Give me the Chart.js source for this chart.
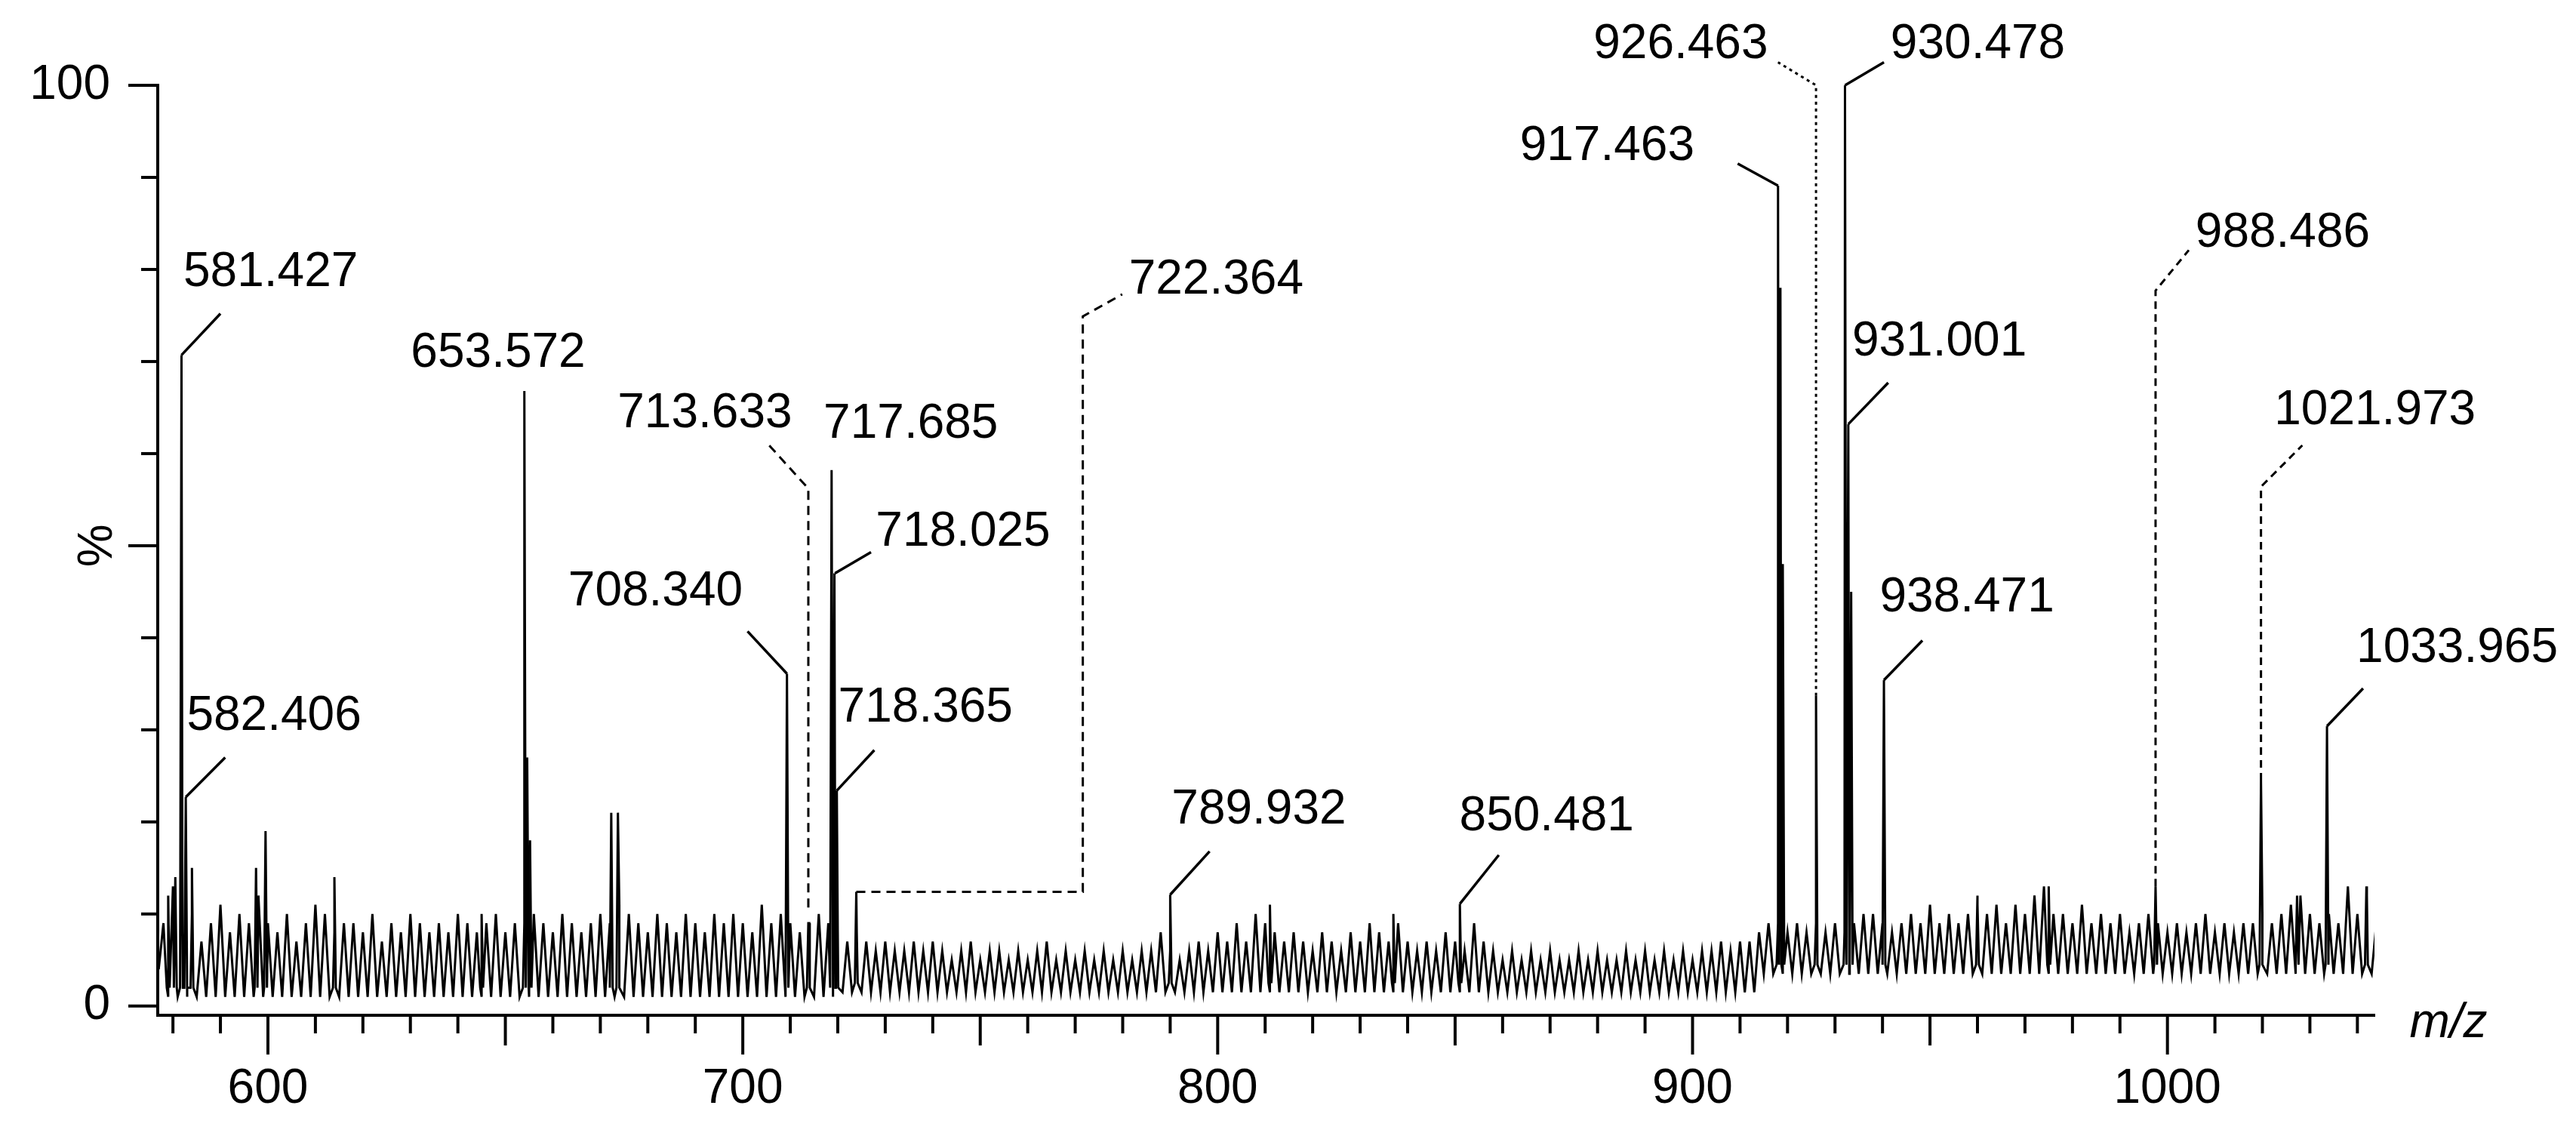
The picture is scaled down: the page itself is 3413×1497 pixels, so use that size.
<!DOCTYPE html>
<html>
<head>
<meta charset="utf-8">
<script src="https://cdn.jsdelivr.net/npm/chart.js@4/dist/chart.umd.min.js"></script>
<style>
  body { margin: 0; background: #fff; }
  canvas { display: block; }
</style>
</head>
<body>
<canvas id="spectrum" width="3413" height="1497"></canvas>
<script>
// Noise envelope tops, every 2 m/z from 578 to 1044
const noiseStart = 578;
const noiseTops = [
    9, 13, 8, 10, 7, 9, 11, 8, 10, 9,
    12, 9, 8, 10, 7, 9, 11, 10, 8, 9,
    9, 8, 10, 7, 9, 8, 10, 9, 8, 9,
    8, 10, 9, 8, 9, 10, 8, 9, 9, 10,
    9, 8, 10, 9, 8, 9, 10, 9, 11, 10,
    9, 8, 10, 9, 8, 10, 9, 8, 10, 9,
    10, 9, 8, 11, 9, 10, 9, 8, 9, 10,
    9, 8, 7, 8, 7, 6, 7, 6, 6, 7,
    6, 7, 6, 5, 6, 7, 5, 6, 6, 5,
    6, 5, 6, 7, 5, 6, 5, 6, 5, 6,
    5, 6, 5, 6, 6, 8, 6, 5, 6, 7,
    6, 8, 7, 9, 7, 10, 9, 8, 7, 8,
    7, 6, 8, 7, 6, 8, 7, 9, 8, 7,
    9, 7, 6, 7, 6, 8, 7, 6, 9, 7,
    6, 5, 6, 5, 6, 5, 6, 5, 5, 6,
    5, 6, 5, 5, 6, 5, 6, 5, 6, 5,
    6, 5, 6, 6, 7, 6, 7, 7, 8, 9,
    9, 8, 9, 8, 9, 8, 9, 8, 9, 10,
    10, 9, 8, 9, 10, 9, 11, 9, 10, 9,
    10, 12, 10, 11, 9, 11, 10, 12, 13, 10,
    10, 9, 11, 9, 10, 9, 10, 8, 9, 10,
    9, 8, 9, 8, 9, 10, 8, 9, 8, 9,
    9, 10, 9, 10, 11, 12, 10, 9, 10, 9,
    13, 10, 12, 9
];
// Noise floor by region: [from m/z, level]
const floorFrom = [577, 720, 915];
const floorLevel = [1, 1.5, 3.5];

// Peaks (position on the axis, relative intensity %)
const peakMz = [579, 580.5, 581.8, 582.7, 584, 597.5, 599.5, 614, 645, 654, 654.6, 655.2,
    672.3, 673.7, 709.3, 713.8, 718.7, 719.3, 719.8, 723.9, 790, 811, 837, 851,
    918, 918.5, 919, 926, 932.1, 932.8, 933.4, 940.3, 960, 975, 997.5, 1019.7, 1027.3, 1033.6, 1041.9];
const peakInt = [12, 14, 70.7, 22.7, 15, 15, 19, 14, 10, 66.8, 27, 18,
    21, 21, 36.1, 9, 58.2, 47, 23.4, 12.4, 12.1, 11, 10, 11.1,
    89.1, 78, 48, 33.7, 100, 63.2, 45, 35.4, 11, 13, 13, 24.5, 12, 30.4, 13];

// Labelled peaks
const labelText = ['581.427', '582.406', '653.572', '708.340', '713.633', '717.685', '718.025', '718.365',
    '722.364', '789.932', '850.481', '917.463', '926.463', '930.478', '931.001', '938.471',
    '988.486', '1021.973', '1033.965'];

// Label layout: text anchor [x, y], alignment, leader path, dash
const labelLayout = [
    { at: [582.2, 79.6], align: 'left', path: [[581.8, 70.7], [590, 75.2]] },
    { at: [582.9, 31.4], align: 'left', path: [[582.7, 22.7], [591, 27]] },
    { at: [630.1, 70.9], align: 'left', path: [] },
    { at: [700.0, 45.0], align: 'right', path: [[709.3, 36.1], [701, 40.7]] },
    { at: [710.4, 64.3], align: 'right', path: [[713.8, 10.7], [713.8, 56.2], [705.2, 61.1]], dash: [12, 8] },
    { at: [717.0, 63.2], align: 'left', path: [] },
    { at: [728.0, 51.4], align: 'left', path: [[719.4, 47], [727, 49.3]] },
    { at: [720.1, 32.3], align: 'left', path: [[719.8, 23.4], [727.7, 27.8]] },
    { at: [781.3, 78.8], align: 'left', path: [[723.9, 12.4], [771.6, 12.4], [771.6, 74.9], [779.9, 77.3]], dash: [12, 8] },
    { at: [790.3, 21.3], align: 'left', path: [[790, 12.1], [798.3, 16.8]] },
    { at: [850.9, 20.5], align: 'left', path: [[851, 11.1], [859.2, 16.4]] },
    { at: [900.4, 93.3], align: 'right', path: [[918, 89.1], [909.5, 91.5]] },
    { at: [915.9, 104.4], align: 'right', path: [[926, 33.7], [926, 100], [918, 102.5]], dash: [4, 5] },
    { at: [941.7, 104.4], align: 'left', path: [[932.1, 100], [940.3, 102.5]] },
    { at: [933.6, 72.1], align: 'left', path: [[932.8, 63.2], [941.2, 67.7]] },
    { at: [939.4, 44.3], align: 'left', path: [[940.3, 35.4], [948.4, 39.7]] },
    { at: [1005.9, 83.9], align: 'left', path: [[997.5, 13], [997.5, 77.7], [1004.5, 82.1]], dash: [10, 7] },
    { at: [1022.5, 64.6], align: 'left', path: [[1019.7, 24.5], [1019.7, 56.4], [1028.4, 60.9]], dash: [10, 7] },
    { at: [1039.8, 38.8], align: 'left', path: [[1033.6, 30.4], [1041.2, 34.5]] }
];

const xMin = 576.8, xMax = 1043.6;
const FONT = '"Liberation Sans", Arial, sans-serif';

// Build the profile: noise zigzag plus narrow peak triangles
function buildProfile() {
    const pts = [];
    const floorAt = x => {
        let f = floorLevel[0];
        floorFrom.forEach((from, i) => { if (x >= from) f = floorLevel[i]; });
        return f;
    };
    noiseTops.forEach((v, i) => {
        const x = noiseStart + i * 2;
        pts.push({ x: x, y: v });
        pts.push({ x: x + 1, y: floorAt(x + 1) });
    });
    peakMz.forEach((m, i) => {
        const b = floorAt(m) + 1;
        pts.push({ x: m - 0.3, y: b });
        pts.push({ x: m, y: peakInt[i] });
        pts.push({ x: m + 0.3, y: b });
    });
    pts.push({ x: 577, y: 4 });
    return pts.sort((a, b) => a.x - b.x);
}

// Custom axis ticks, annotations and axis titles
const decorPlugin = {
    id: 'decor',
    afterDraw(chart) {
        const ctx = chart.ctx;
        const xs = chart.scales.x, ys = chart.scales.y;
        const area = chart.chartArea;
        ctx.save();
        ctx.strokeStyle = '#000';
        ctx.fillStyle = '#000';

        // y ticks
        ctx.lineWidth = 4;
        for (let v = 0; v <= 100; v += 10) {
            const len = v % 50 === 0 ? 39 : 22;
            const y = ys.getPixelForValue(v);
            ctx.beginPath();
            ctx.moveTo(area.left - len, y);
            ctx.lineTo(area.left, y);
            ctx.stroke();
        }
        // x ticks
        for (let v = 580; v <= 1040; v += 10) {
            const len = v % 100 === 0 ? 52 : (v % 50 === 0 ? 40 : 24);
            const x = xs.getPixelForValue(v);
            ctx.beginPath();
            ctx.moveTo(x, area.bottom);
            ctx.lineTo(x, area.bottom + len);
            ctx.stroke();
        }

        // peak labels with leader lines
        ctx.font = '64px ' + FONT;
        ctx.textBaseline = 'middle';
        labelText.forEach((txt, i) => {
            const l = labelLayout[i];
            if (l.path.length) {
                ctx.lineWidth = l.dash ? 3 : 3.5;
                ctx.setLineDash(l.dash || []);
                ctx.beginPath();
                l.path.forEach((p, k) => {
                    const px = xs.getPixelForValue(p[0]), py = ys.getPixelForValue(p[1]);
                    if (k === 0) ctx.moveTo(px, py); else ctx.lineTo(px, py);
                });
                ctx.stroke();
                ctx.setLineDash([]);
            }
            ctx.textAlign = l.align;
            ctx.fillText(txt, xs.getPixelForValue(l.at[0]), ys.getPixelForValue(l.at[1]));
        });

        // "%" title
        ctx.save();
        ctx.translate(130, ys.getPixelForValue(50));
        ctx.rotate(-Math.PI / 2);
        ctx.textAlign = 'center';
        ctx.fillText('%', 0, 0);
        ctx.restore();

        // m/z title
        ctx.font = 'italic 64px ' + FONT;
        ctx.textAlign = 'center';
        ctx.fillText('m/z', 3244, 1356);
        ctx.restore();
    }
};

document.addEventListener('DOMContentLoaded', function() {
    const ctx = document.getElementById('spectrum').getContext('2d');
    new Chart(ctx, {
        type: 'scatter',
        data: {
            datasets: [{
                data: buildProfile(),
                showLine: true,
                borderColor: '#000',
                borderWidth: 3,
                pointRadius: 0,
                tension: 0
            }]
        },
        options: {
            responsive: false,
            animation: false,
            devicePixelRatio: 1,
            layout: { padding: { top: 113, right: 267, left: 0, bottom: 0 } },
            plugins: { legend: { display: false }, tooltip: { enabled: false } },
            scales: {
                x: {
                    type: 'linear',
                    min: xMin,
                    max: xMax,
                    afterFit: s => { s.height = 152; },
                    afterBuildTicks: s => {
                        s.ticks = [600, 700, 800, 900, 1000].map(v => ({ value: v }));
                    },
                    border: { display: true, color: '#000', width: 4 },
                    grid: { display: false, drawTicks: true, tickLength: 52 },
                    ticks: {
                        color: '#000',
                        padding: 8,
                        maxRotation: 0,
                        font: { family: FONT, size: 64 },
                        callback: v => String(v)
                    }
                },
                y: {
                    min: -1,
                    max: 100,
                    afterFit: s => { s.width = 209; },
                    afterBuildTicks: s => {
                        s.ticks = [0, 100].map(v => ({ value: v }));
                    },
                    border: { display: true, color: '#000', width: 4 },
                    grid: { display: false, drawTicks: true, tickLength: 39 },
                    ticks: {
                        color: '#000',
                        padding: 24,
                        font: { family: FONT, size: 64 },
                        callback: v => String(v)
                    }
                }
            }
        },
        plugins: [decorPlugin]
    });
});
</script>
</body>
</html>
